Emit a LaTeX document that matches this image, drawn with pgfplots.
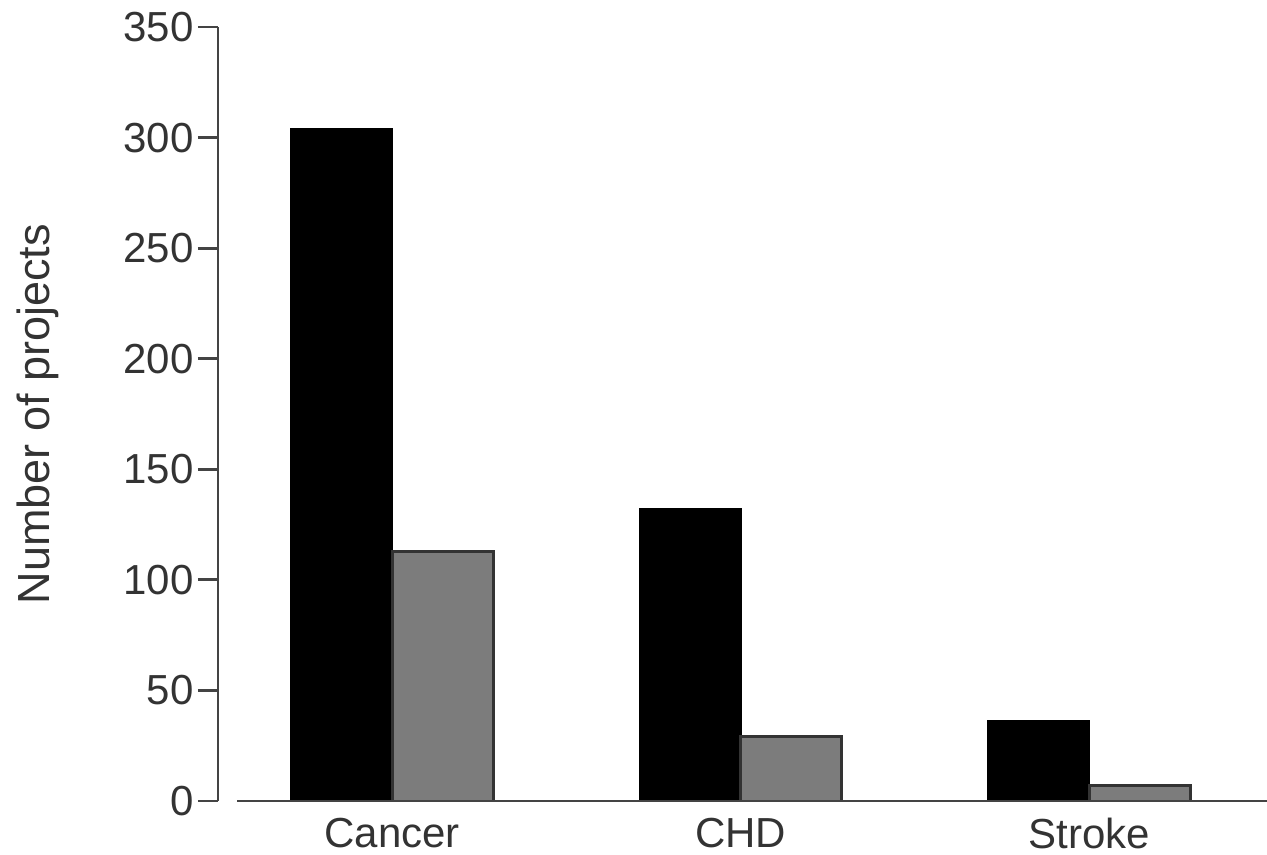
\documentclass[border=0pt]{standalone}
\usepackage{pgfplots}
\pgfplotsset{compat=1.18}
\usepackage{fontspec}
\setmainfont{Liberation Sans}
\definecolor{axisgray}{HTML}{444444}
\definecolor{txtgray}{HTML}{333333}
\definecolor{bargray}{HTML}{7C7C7C}

\begin{document}
\begin{tikzpicture}
	\begin{axis}[
		scale only axis,
		width=524.5pt, height=387pt,
		xmin=-0.5, xmax=2.51,
		ymin=0, ymax=350,
		axis lines=left,
		axis line style={-, draw=axisgray, line width=1.4pt},
		x axis line style={draw=none},
		ytick={0,50,...,350},
		xtick={0,1,2},
		xticklabels={Cancer,CHD,Stroke},
		xtick style={draw=none},
		ytick style={draw=axisgray, line width=1.4pt},
		tick align=outside,
		major tick length=10pt,
		/pgf/number format/assume math mode=true,
		tick label style={font=\fontsize{21}{25}\selectfont, text=txtgray},
		yticklabel style={inner sep=2pt},
		xticklabel style={inner sep=0pt, yshift=1.5pt},
		ylabel={Number of projects},
		ylabel style={font=\fontsize{22.5}{26}\selectfont, text=txtgray,
			at={(axis description cs:-0.1716,0.5)}, anchor=center},
		ybar, bar width=0.29,
		clip=false,
		]
		\addplot[fill=black, draw=black, line width=1pt, bar shift=-0.145]
			coordinates {(0,304) (1,132) (2,36)};
		\addplot[fill=bargray, draw=txtgray, line width=1.4pt, bar shift=0.145]
			coordinates {(0,113) (1,29) (2,7)};
		\draw[axisgray, line width=1.4pt] (axis cs:-0.445,0) -- (axis cs:2.51,0);
	\end{axis}
	\pgfresetboundingbox
	\path ([xshift=-109pt,yshift=-27pt]current axis.south west)
		rectangle ([yshift=13.5pt]current axis.north east);
\end{tikzpicture}
\end{document}
